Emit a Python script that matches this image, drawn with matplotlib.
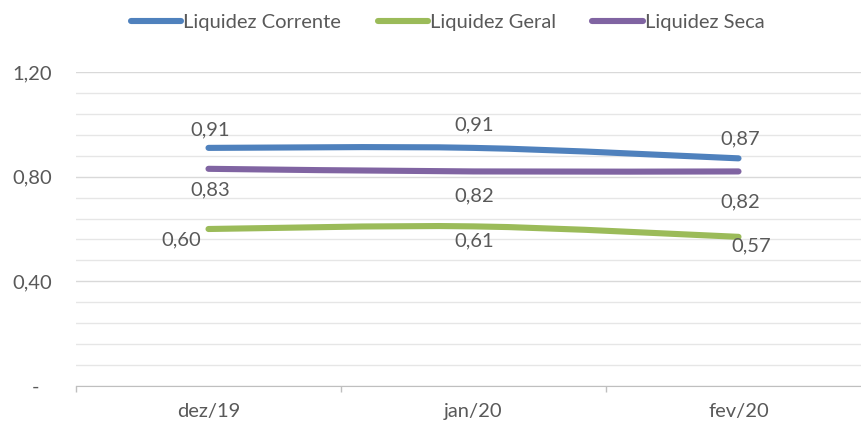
import matplotlib
matplotlib.use("Agg")
import matplotlib.pyplot as plt
import matplotlib.transforms as mtransforms
from matplotlib.path import Path
from matplotlib.patches import PathPatch
from matplotlib.lines import Line2D
import numpy as np

months = ["dez/19", "jan/20", "fev/20"]
corrente = [0.91, 0.91, 0.87]
geral = [0.60, 0.61, 0.57]
seca = [0.83, 0.82, 0.82]
ytick_vals = [0, 0.4, 0.8, 1.2]
ytick_labels = ["-", "0,40", "0,80", "1,20"]

TEXT = "#595959"
GRID = "#d9d9d9"
BLUE = "#4f81bd"; GREEN = "#9bbb59"; PURPLE = "#8064a2"
FS = 14.5

plt.rcParams["font.family"] = ["Lato", "DejaVu Sans"]


def smooth_path(xs, ys):
    # Excel-style smoothed line: Catmull-Rom segments as cubic Beziers
    pts = list(zip(xs, ys))
    verts = [pts[0]]
    codes = [Path.MOVETO]
    n = len(pts)
    for i in range(n - 1):
        p0 = pts[i - 1] if i > 0 else pts[i]
        p1, p2 = pts[i], pts[i + 1]
        p3 = pts[i + 2] if i + 2 < n else pts[i + 1]
        c1 = (p1[0] + (p2[0] - p0[0]) / 6, p1[1] + (p2[1] - p0[1]) / 6)
        c2 = (p2[0] - (p3[0] - p1[0]) / 6, p2[1] - (p3[1] - p1[1]) / 6)
        verts += [c1, c2, p2]
        codes += [Path.CURVE4] * 3
    return Path(verts, codes)


def fmt(v):
    return f"{v:.2f}".replace(".", ",")


fig = plt.figure(figsize=(8.61, 4.25), dpi=100)
ax = fig.add_axes([76 / 861, 1 - 386 / 425, (871 - 76) / 861, (386 - 72) / 425])

x = np.arange(len(months))
series = [("Liquidez Corrente", corrente, BLUE),
          ("Liquidez Geral", geral, GREEN),
          ("Liquidez Seca", seca, PURPLE)]
for name, vals, col in series:
    ax.add_patch(PathPatch(smooth_path(x, vals), facecolor="none", edgecolor=col,
                           lw=4.4, capstyle="round", joinstyle="round", zorder=3))

# label offsets in pixels (dx, dy), placed like the Excel data labels
offs = {
    "Liquidez Corrente": [(2, 18), (1, 23), (2, 19)],
    "Liquidez Seca": [(2, -21), (1, -24), (2, -30)],
    "Liquidez Geral": [(-27, -11), (1, -14), (13, -9)],
}
for name, vals, col in series:
    for xi, v, (dx, dy) in zip(x, vals, offs[name]):
        ax.annotate(fmt(v), (xi, v), xytext=(dx, dy), textcoords="offset pixels",
                    ha="center", va="center", fontsize=FS, color=TEXT, zorder=4)

ax.set_xlim(-0.5, 2.5)
ax.set_ylim(0, 1.2)
ax.set_yticks(ytick_vals)
ax.set_yticklabels(ytick_labels)
ax.set_yticks(np.arange(0, 1.21, 0.08), minor=True)
ax.grid(True, axis="y", which="minor", color="#e6e6e6", lw=1.0)
ax.grid(True, axis="y", which="major", color=GRID, lw=1.0)
ax.set_axisbelow(True)
ax.tick_params(axis="y", which="both", length=0, pad=17, labelsize=FS, labelcolor=TEXT)

ax.set_xticks(x)
ax.set_xticklabels(months)
ax.set_xticks([-0.5, 0.5, 1.5, 2.5], minor=True)
ax.tick_params(axis="x", which="major", length=0, pad=12, labelsize=FS, labelcolor=TEXT)
ax.tick_params(axis="x", which="minor", length=4, color="#bfbfbf", width=1)

for s in ("top", "right", "left"):
    ax.spines[s].set_visible(False)
ax.spines["bottom"].set_color("#bfbfbf")

# the "-" zero label sits further left, as in accounting format
zero_lbl = ax.yaxis.get_major_ticks()[0].label1
zero_lbl.set_transform(zero_lbl.get_transform() +
                       mtransforms.ScaledTranslation(-0.13, 0, fig.dpi_scale_trans))

handles = [Line2D([], [], color=c, lw=4.4, solid_capstyle="round") for _, _, c in series]
fig.legend(handles, [n for n, _, _ in series], loc="center", bbox_to_anchor=(0.52, 1 - 22 / 425),
           ncol=3, frameon=False, fontsize=FS, labelcolor=TEXT, handlelength=2.5,
           handletextpad=0.1, columnspacing=1.8)

fig.savefig("out.png", dpi=100)
